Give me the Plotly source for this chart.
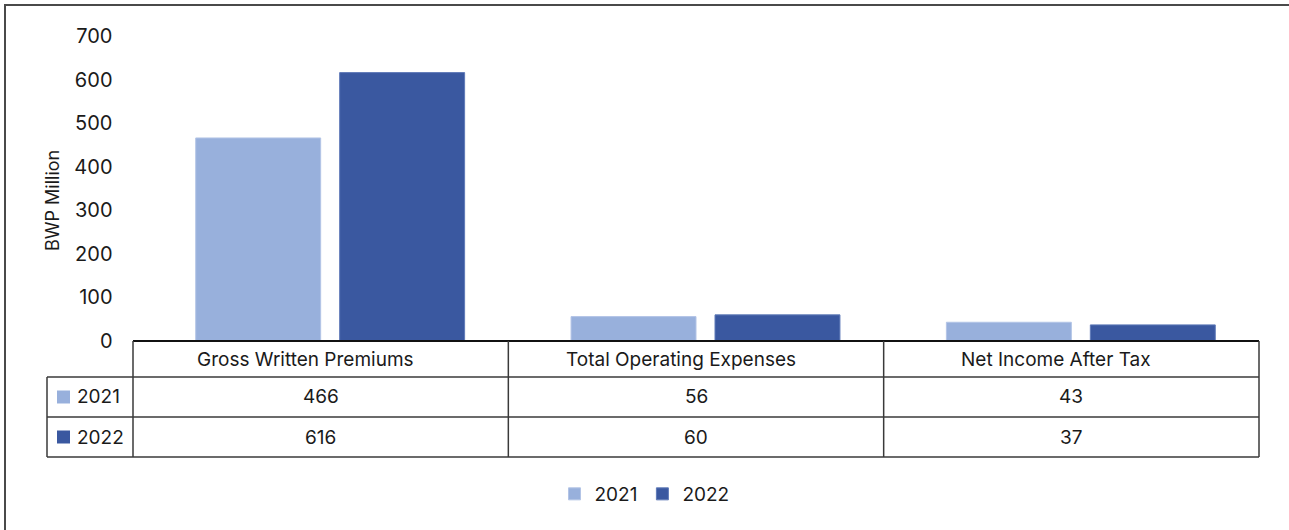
import plotly.graph_objects as go

# Chart data
categories = ["Gross Written Premiums", "Total Operating Expenses", "Net Income After Tax"]
years = ["2021", "2022"]
values_2021 = [466, 56, 43]
values_2022 = [616, 60, 37]
y_ticks = [0, 100, 200, 300, 400, 500, 600, 700]

series = [values_2021, values_2022]
colors = ["#98B0DC", "#3A58A0"]
edge_colors = ["#B3C4E6", "#5F7AB8"]

W, H = 1289, 530
FONT = "Inter"
TEXT = "#1a1a1a"
GRID = "#3a3a3a"
FS = 19


def px(x):
    return x / W


def py(y):
    return 1 - y / H


# Plot area and table geometry (pixels)
left, right = 133, 1259          # table columns
bar_shift = 9.5                  # bars sit slightly right of the table columns
header_shift = 15                # header labels sit a little left of the column centre
top, zero = 36, 341
row_edges = [341, 377, 417, 457]
label_left = 47

fig = go.Figure()
for name, vals, c, ec in zip(years, series, colors, edge_colors):
    fig.add_trace(go.Bar(
        x=categories, y=vals, name=name,
        marker=dict(color=c, line=dict(color=ec, width=1)),
        hoverinfo="x+y+name",
    ))

shapes = []
line = dict(color=GRID, width=1.5)
# top rule (baseline of the bars)
shapes.append(dict(type="line", xref="paper", yref="paper",
                   x0=px(left), x1=px(right), y0=py(zero), y1=py(zero),
                   line=dict(color="#111111", width=2)))
# horizontal table rules
for ry in row_edges[1:]:
    shapes.append(dict(type="line", xref="paper", yref="paper",
                       x0=px(label_left), x1=px(right), y0=py(ry), y1=py(ry), line=line))
# vertical table rules
n = len(categories)
for k in range(n + 1):
    xx = left + (right - left) * k / n
    shapes.append(dict(type="line", xref="paper", yref="paper",
                       x0=px(xx), x1=px(xx), y0=py(row_edges[0]), y1=py(row_edges[-1]), line=line))
shapes.append(dict(type="line", xref="paper", yref="paper",
                   x0=px(label_left), x1=px(label_left), y0=py(row_edges[1]), y1=py(row_edges[-1]), line=line))

# outer frame
shapes.append(dict(type="rect", xref="paper", yref="paper",
                   x0=px(5), x1=px(W + 20), y0=py(5), y1=py(H + 20),
                   line=dict(color="#4a4a4a", width=2), fillcolor="rgba(0,0,0,0)", layer="below"))

annotations = []
cell_font = dict(family=FONT, size=FS, color=TEXT)
# category header row
hdr_y = (row_edges[0] + row_edges[1]) / 2
for cat in categories:
    annotations.append(dict(x=cat, xref="x", xshift=-bar_shift - header_shift,
                            y=py(hdr_y), yref="paper",
                            yanchor="middle", xanchor="center", text=cat,
                            showarrow=False, font=cell_font))
# value rows with legend keys
for r, (name, vals, c) in enumerate(zip(years, series, colors)):
    cy = (row_edges[r + 1] + row_edges[r + 2]) / 2
    for cat, v in zip(categories, vals):
        annotations.append(dict(x=cat, xref="x", xshift=-bar_shift, y=py(cy), yref="paper",
                                yanchor="middle", xanchor="center", text=str(v),
                                showarrow=False, font=cell_font))
    shapes.append(dict(type="rect", xref="paper", yref="paper",
                       x0=px(57), x1=px(70), y0=py(cy - 6.5), y1=py(cy + 6.5),
                       fillcolor=c, line=dict(width=0)))
    annotations.append(dict(x=px(75), xref="paper", y=py(cy), yref="paper", text=name,
                            xanchor="left", yanchor="middle", showarrow=False,
                            font=cell_font))

# y-axis title
annotations.append(dict(x=px(52), xref="paper", y=py(201), yref="paper", text="BWP Million",
                        textangle=-90, xanchor="center", yanchor="middle", showarrow=False,
                        font=dict(family=FONT, size=18, color=TEXT)))

fig.update_layout(
    width=W, height=H,
    margin=dict(l=0, r=0, t=0, b=0, pad=0, autoexpand=False),
    paper_bgcolor="white", plot_bgcolor="white",
    barmode="group", bargap=0.233, bargroupgap=0.132,
    font=dict(family=FONT, size=FS, color=TEXT),
    xaxis=dict(domain=[px(left + bar_shift), px(right + bar_shift)], showticklabels=False,
               ticks="", showline=False, showgrid=False, zeroline=False,
               automargin=False, fixedrange=True),
    yaxis=dict(domain=[py(zero), py(top)], range=[0, 700], tickvals=y_ticks,
               showgrid=False, zeroline=False, showline=False, ticks="",
               ticklabelstandoff=29, tickfont=dict(family=FONT, size=20, color=TEXT),
               automargin=False, fixedrange=True),
    legend=dict(orientation="h", x=0.5, xanchor="center", y=py(494), yanchor="middle",
                font=dict(family=FONT, size=FS, color=TEXT), itemwidth=30,
                traceorder="normal"),
    shapes=shapes,
    annotations=annotations,
    showlegend=True,
)

fig.write_html("out.html")
